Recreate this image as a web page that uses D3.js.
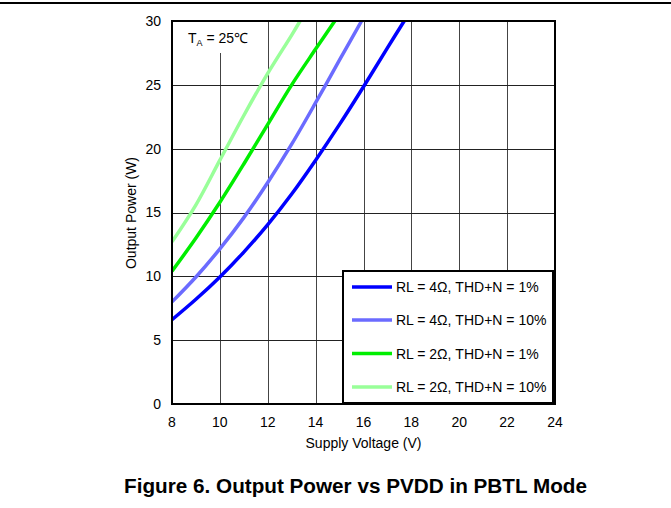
<!DOCTYPE html>
<html>
<head>
<meta charset="utf-8">
<script src="https://cdn.jsdelivr.net/npm/d3@7"></script>
<style>
  html, body { margin: 0; padding: 0; background: #fff; }
  svg { display: block; font-family: "Liberation Sans", Arial, sans-serif; }
</style>
</head>
<body>
<svg id="chart" width="671" height="508"></svg>
<script>
// ---- data ----
const xTicks = [8, 10, 12, 14, 16, 18, 20, 22, 24];
const yTicks = [0, 5, 10, 15, 20, 25, 30];

const seriesLabels = [
  "RL = 4\u03A9, THD+N = 1%",
  "RL = 4\u03A9, THD+N = 10%",
  "RL = 2\u03A9, THD+N = 1%",
  "RL = 2\u03A9, THD+N = 10%"
];
const seriesColors = ["#0000ff", "#6b6bff", "#00ee00", "#99ff99"];

// Supply voltage (V) and output power (W) per series
const volt4r1 = [8, 9, 10, 11, 12, 13, 14, 15, 16, 17, 17.7];
const pow4r1  = [6.6, 8.2, 9.95, 11.9, 14.05, 16.45, 19.1, 21.9, 24.85, 27.9, 30];

const volt4r10 = [8, 9, 10, 11, 12, 13, 14, 15, 15.92];
const pow4r10  = [8.0, 9.95, 12.15, 14.6, 17.35, 20.35, 23.6, 26.95, 30];

const volt2r1 = [8, 9, 10, 11, 12, 13, 14, 14.8];
const pow2r1  = [10.4, 13.0, 15.8, 18.8, 21.9, 25.0, 27.8, 30];

const volt2r10 = [8, 9, 10, 11, 12, 13, 13.35];
const pow2r10  = [12.7, 15.6, 19.1, 22.6, 25.9, 28.9, 30];

const seriesVolts = [volt4r1, volt4r10, volt2r1, volt2r10];
const seriesPowers = [pow4r1, pow4r10, pow2r1, pow2r10];

// ---- drawing ----
const svg = d3.select("#chart");
const W = 671, H = 508;
const plot = { left: 172, right: 555, top: 21, bottom: 404 };

const x = d3.scaleLinear().domain([8, 24]).range([plot.left, plot.right]);
const y = d3.scaleLinear().domain([0, 30]).range([plot.bottom, plot.top]);

// top rule
svg.append("line")
  .attr("x1", 0).attr("x2", W).attr("y1", 3).attr("y2", 3)
  .attr("stroke", "#000").attr("stroke-width", 2);

// grid
const grid = svg.append("g");
grid.selectAll("line.v").data(xTicks.slice(1, -1)).join("line")
  .attr("class", "v")
  .attr("x1", d => Math.round(x(d)) + 0.5).attr("x2", d => Math.round(x(d)) + 0.5)
  .attr("y1", plot.top).attr("y2", plot.bottom)
  .attr("stroke", "#444").attr("stroke-width", 1);
grid.selectAll("line.h").data(yTicks.slice(1, -1)).join("line")
  .attr("class", "h")
  .attr("x1", plot.left).attr("x2", plot.right)
  .attr("y1", d => Math.round(y(d)) + 0.5).attr("y2", d => Math.round(y(d)) + 0.5)
  .attr("stroke", "#222").attr("stroke-width", 1);

// annotation background (hides grid)
svg.append("rect")
  .attr("x", plot.left).attr("y", plot.top)
  .attr("width", 78).attr("height", 32)
  .attr("fill", "#fff");

// clip
svg.append("clipPath").attr("id", "clip")
  .append("rect")
  .attr("x", plot.left).attr("y", plot.top)
  .attr("width", plot.right - plot.left).attr("height", plot.bottom - plot.top);

const line = d3.line()
  .x(d => x(d[0])).y(d => y(d[1]))
  .curve(d3.curveCatmullRom.alpha(0.5));

const curves = svg.append("g").attr("clip-path", "url(#clip)");
seriesVolts.forEach((vs, i) => {
  const pts = vs.map((v, j) => [v, seriesPowers[i][j]]);
  curves.append("path")
    .datum(pts)
    .attr("d", line)
    .attr("fill", "none")
    .attr("stroke", seriesColors[i])
    .attr("stroke-width", 3.5)
    .attr("stroke-linecap", "butt");
});

// frame
svg.append("rect")
  .attr("x", plot.left).attr("y", plot.top)
  .attr("width", plot.right - plot.left).attr("height", plot.bottom - plot.top)
  .attr("fill", "none").attr("stroke", "#000").attr("stroke-width", 2);

// annotation text
const ann = svg.append("text")
  .attr("x", 188).attr("y", 43)
  .attr("font-size", 14).attr("fill", "#000");
ann.append("tspan").text("T");
ann.append("tspan").attr("font-size", 9).attr("dy", 3).text("A");
ann.append("tspan").attr("dy", -3).text(" = 25\u2103");

// axis tick labels
svg.append("g").selectAll("text").data(yTicks).join("text")
  .attr("x", 161).attr("y", d => y(d))
  .attr("dy", "0.35em")
  .attr("text-anchor", "end")
  .attr("font-size", 14)
  .text(d => d);

svg.append("g").selectAll("text").data(xTicks).join("text")
  .attr("x", d => x(d)).attr("y", 427)
  .attr("text-anchor", "middle")
  .attr("font-size", 14)
  .text(d => d);

// axis titles
svg.append("text")
  .attr("x", x(16)).attr("y", 448)
  .attr("text-anchor", "middle")
  .attr("font-size", 14)
  .text("Supply Voltage (V)");

svg.append("text")
  .attr("transform", "translate(136,213) rotate(-90)")
  .attr("text-anchor", "middle")
  .attr("font-size", 14)
  .text("Output Power (W)");

// legend
const lg = svg.append("g");
lg.append("rect")
  .attr("x", 343).attr("y", 271)
  .attr("width", 210).attr("height", 132)
  .attr("fill", "#fff").attr("stroke", "#000").attr("stroke-width", 2);
const legendY = [287, 320, 353.5, 387];
seriesLabels.forEach((lab, i) => {
  lg.append("line")
    .attr("x1", 352).attr("x2", 392)
    .attr("y1", legendY[i]).attr("y2", legendY[i])
    .attr("stroke", seriesColors[i]).attr("stroke-width", 3.5);
  lg.append("text")
    .attr("x", 396).attr("y", legendY[i])
    .attr("dy", "0.36em")
    .attr("font-size", 14)
    .text(lab);
});

// caption
svg.append("text")
  .attr("x", 355.5).attr("y", 493)
  .attr("text-anchor", "middle")
  .attr("font-size", 20.7)
  .attr("font-weight", "bold")
  .text("Figure 6. Output Power vs PVDD in PBTL Mode");
</script>
</body>
</html>
